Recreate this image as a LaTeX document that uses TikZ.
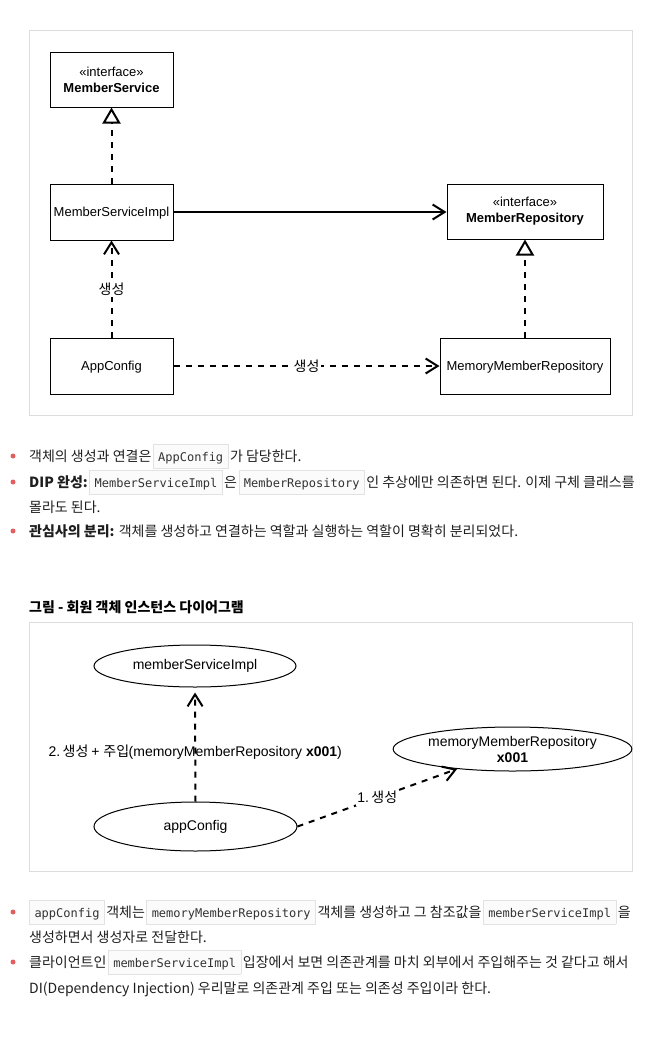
\documentclass[tikz,border=0pt]{standalone}
\usepackage{fontspec}
\setmainfont{Liberation Sans}
\newfontfamily\kr{Noto Sans CJK KR}
\newfontfamily\mono{DejaVu Sans Mono}
\usetikzlibrary{arrows.meta,shapes.geometric}
\definecolor{framec}{HTML}{DDDDDD}
\definecolor{codebd}{HTML}{E2E2E2}
\definecolor{codebg}{HTML}{FBFBFB}
\definecolor{codefg}{HTML}{333333}
\definecolor{bodyc}{HTML}{1E1E1E}
\definecolor{bulletc}{HTML}{E25F5F}
\newcommand{\cd}[1]{\hspace{1.5pt}{\setlength{\fboxsep}{0pt}\setlength{\fboxrule}{0.8pt}\fcolorbox{codebd}{codebg}{\hspace{4.5pt}\rule[-6.5pt]{0pt}{23pt}{\mono\fontsize{12}{14}\selectfont\color{codefg}#1}\hspace{4.5pt}}}\hspace{1.5pt}}
\tikzset{
  frame/.style={draw=framec, line width=1pt},
  umlbox/.style={draw, line width=1pt, fill=white, align=center, font=\fontsize{13}{16}\selectfont, inner sep=2pt},
  oneline/.style={text height=9pt, text depth=1pt},
  obj/.style={draw, line width=1pt, ellipse, inner sep=0pt, align=center, font=\fontsize{14}{16}\selectfont},
  dashln/.style={line width=2pt, dash pattern=on 6pt off 6pt},
  solidln/.style={line width=2pt},
  barbtip/.style={-{Straight Barb[length=12pt,width=15pt]}},
  realize/.style={-{Triangle[open,length=16pt,width=18pt]}},
  lbl/.style={fill=white, inner sep=1.5pt, font=\kr\fontsize{14}{16}\selectfont},
  bodytxt/.style={anchor=base west, inner sep=0pt, text=bodyc, font=\kr\fontsize{14}{17}\selectfont},
  bul/.style={circle, fill=bulletc, inner sep=0pt, minimum size=5pt}
}
\begin{document}
\begin{tikzpicture}[x=1pt,y=-1pt]
\useasboundingbox (0,0) rectangle (667,1039);
% ---------- frame 1 ----------
\draw[frame] (29,30) rectangle (632,415);
\node[umlbox, minimum width=123pt, minimum height=55pt] (ms) at (111.5,79.5) {«interface»\\\textbf{MemberService}};
\node[umlbox, oneline, minimum width=123pt, minimum height=56pt] (msi) at (111.5,212) {MemberServiceImpl};
\node[umlbox, minimum width=156pt, minimum height=55pt] (mr) at (525,211.5) {«interface»\\\textbf{MemberRepository}};
\node[umlbox, oneline, minimum width=123pt, minimum height=56pt] (ac) at (111.5,366) {AppConfig};
\node[umlbox, oneline, minimum width=170pt, minimum height=56pt] (mmr) at (525,366) {MemoryMemberRepository};
\draw[dashln, realize] (msi.north) -- (ms.south);
\draw[dashln, barbtip] (ac.north) -- node[lbl] (l1) {생성} (msi.south);
\draw[solidln, barbtip] (msi.east) -- (msi.east -| mr.west);
\draw[dashln, realize] (mmr.north) -- (mmr.north |- mr.south);
\draw[dashln, barbtip] (ac.east) -- node[lbl] (l2) {생성} (mmr.west);
% ---------- text block 1 ----------
\node[bul] (b1) at (13,456) {};
\node[bodytxt] (t1) at (29,461) {객체의 생성과 연결은\cd{AppConfig}가 담당한다.};
\node[bul] (b2) at (13,482) {};
\node[bodytxt] (t2) at (29,487) {{\bfseries DIP 완성:}\cd{MemberServiceImpl}은\cd{MemberRepository}인 추상에만 의존하면 된다. 이제 구체 클래스를};
\node[bodytxt] (t3) at (29,512) {몰라도 된다.};
\node[bul] (b3) at (13,531) {};
\node[bodytxt] (t4) at (29,536) {{\bfseries 관심사의 분리:} 객체를 생성하고 연결하는 역할과 실행하는 역할이 명확히 분리되었다.};
% ---------- title ----------
\node[bodytxt, text=black] (title) at (29,612) {\bfseries 그림 - 회원 객체 인스턴스 다이어그램};
% ---------- frame 2 ----------
\draw[frame] (29,622) rectangle (632,871);
\node[obj, minimum width=202pt, minimum height=42pt] (omsi) at (195,666) {memberServiceImpl};
\node[obj, minimum width=201pt, minimum height=44pt] (ommr) at (512.5,749) {memoryMemberRepository\\\textbf{x001}};
\node[obj, minimum width=203pt, minimum height=49pt] (oac) at (195.5,826.5) {appConfig};
\draw[dashln, barbtip, shorten >=5pt] (oac.north) -- node[pos=0.43, inner sep=0pt, font=\fontsize{14}{16}\selectfont] (l3) {2.\kern-1.5pt\ {\kr 생성}\kern-1pt\ +\ {\kr 주입}\kern-0.5pt(memoryMemberRepository \textbf{x001})} (omsi.south);
\draw[dashln, barbtip] (oac.east) -- node[fill=white, inner sep=1.5pt, font=\fontsize{14}{16}\selectfont] (l4) {1.\kern-1.5pt\ {\kr 생성}} (ommr);
% ---------- text block 2 ----------
\node[bul] (b4) at (13,912) {};
\node[bodytxt] (t5) at (27.5,917) {\cd{appConfig}객체는\cd{memoryMemberRepository}객체를 생성하고 그 참조값을\cd{memberServiceImpl}을};
\node[bodytxt] (t6) at (29,942) {생성하면서 생성자로 전달한다.};
\node[bul] (b5) at (13,962) {};
\node[bodytxt] (t7) at (29,967) {클라이언트인\cd{memberServiceImpl}입장에서 보면 의존관계를 마치 외부에서 주입해주는 것 같다고 해서};
\node[bodytxt] (t8) at (29,993) {DI(Dependency Injection) 우리말로 의존관계 주입 또는 의존성 주입이라 한다.};
\end{tikzpicture}
\end{document}
